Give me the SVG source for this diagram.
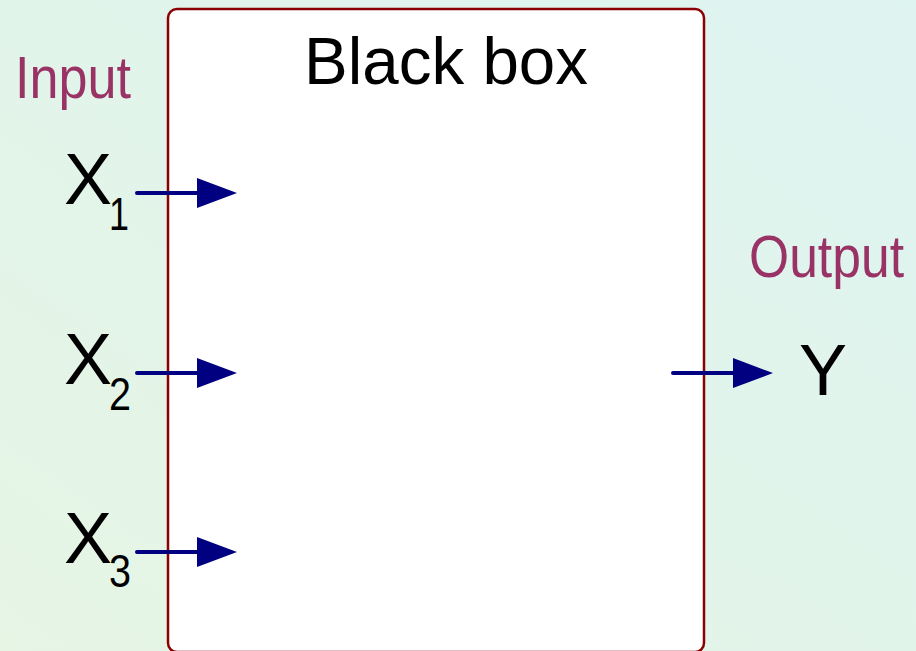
<svg xmlns="http://www.w3.org/2000/svg" width="916" height="651" viewBox="0 0 916 651">
<defs>
<linearGradient id="bg" x1="0" y1="1" x2="1" y2="0">
<stop offset="0" stop-color="#e6f5e4"/>
<stop offset="1" stop-color="#def4f1"/>
</linearGradient>
<marker id="ah" markerUnits="userSpaceOnUse" markerWidth="42" markerHeight="32" refX="1" refY="15" orient="auto">
<path d="M0,0 L40,15 L0,30 Z" fill="#000080"/>
</marker>
<style>
.lbl{font-family:"Liberation Sans",Arial,sans-serif;fill:#993366;font-size:60px}
.var{font-family:"Liberation Sans",Arial,sans-serif;fill:#000;font-size:72px}
.sub{font-family:"Liberation Sans",Arial,sans-serif;fill:#000;font-size:46px}
.title{font-family:"Liberation Sans",Arial,sans-serif;fill:#000;font-size:66px}
.conn{stroke:#000080;stroke-width:4;stroke-linecap:round;fill:none;marker-end:url(#ah)}
</style>
</defs>
<rect width="916" height="651" fill="url(#bg)"/>
<g id="blackbox">
<rect x="168" y="9" width="536" height="643" rx="9" fill="#fff" stroke="#8b0000" stroke-width="2.5"/>
<text class="title" x="446" y="84" text-anchor="middle" textLength="284" lengthAdjust="spacingAndGlyphs">Black box</text>
</g>
<g id="input-label"><text class="lbl" x="15" y="98" textLength="116" lengthAdjust="spacingAndGlyphs">Input</text></g>
<g id="output-label"><text class="lbl" x="749" y="277" textLength="155" lengthAdjust="spacingAndGlyphs">Output</text></g>
<g id="x1"><text class="var" x="64" y="204">X</text><text class="sub" x="109" y="230" textLength="20" lengthAdjust="spacingAndGlyphs">1</text></g>
<g id="x2"><text class="var" x="64" y="384">X</text><text class="sub" x="109" y="410" textLength="22" lengthAdjust="spacingAndGlyphs">2</text></g>
<g id="x3"><text class="var" x="64" y="563">X</text><text class="sub" x="109" y="587" textLength="22" lengthAdjust="spacingAndGlyphs">3</text></g>
<g id="y"><text class="var" x="799" y="395">Y</text></g>
<g id="connectors">
<line class="conn" x1="137" y1="193" x2="198" y2="193"/>
<line class="conn" x1="137" y1="373" x2="198" y2="373"/>
<line class="conn" x1="137" y1="552" x2="198" y2="552"/>
<line class="conn" x1="673" y1="373" x2="734" y2="373"/>
</g>
</svg>
